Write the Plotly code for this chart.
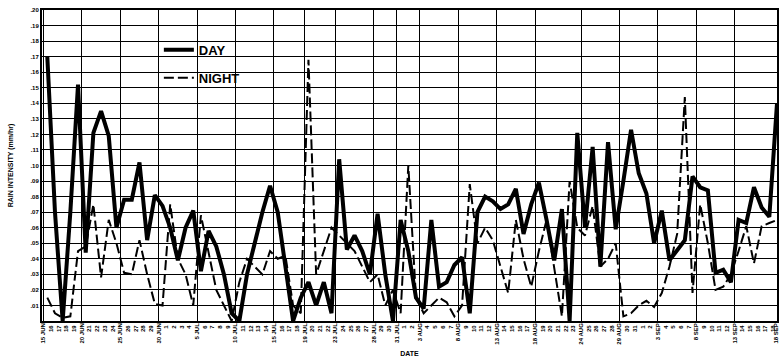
import plotly.graph_objects as go

# Daily rain intensity (mm/hr), observation day index 0 = 15 JUN
DAY = [0.170, 0.070, 0.000, 0.070, 0.152, 0.044, 0.121, 0.135, 0.119, 0.060,
       0.078, 0.078, 0.102, 0.052, 0.081, 0.074, 0.060, 0.039, 0.060, 0.071,
       0.032, 0.058, 0.048, 0.030, 0.005, 0.000, 0.030, 0.050, 0.070, 0.087,
       0.070, 0.035, 0.000, 0.015, 0.025, 0.010, 0.025, 0.005, 0.104, 0.046,
       0.055, 0.045, 0.030, 0.069, 0.030, 0.000, 0.065, 0.045, 0.015, 0.008,
       0.065, 0.022, 0.025, 0.036, 0.041, 0.005, 0.070, 0.080, 0.077, 0.072,
       0.075, 0.085, 0.056, 0.075, 0.089, 0.065, 0.039, 0.072, 0.000, 0.121,
       0.060, 0.112, 0.035, 0.115, 0.059, 0.090, 0.123, 0.095, 0.082, 0.050,
       0.071, 0.039, 0.045, 0.052, 0.093, 0.086, 0.084, 0.031, 0.033, 0.025,
       0.065, 0.063, 0.086, 0.073, 0.067, 0.140]
NIGHT = [0.015, 0.005, 0.002, 0.003, 0.045, 0.048, 0.075, 0.028, 0.065, 0.050,
         0.031, 0.030, 0.052, 0.030, 0.011, 0.010, 0.075, 0.040, 0.030, 0.010,
         0.068, 0.045, 0.020, 0.010, 0.000, 0.025, 0.040, 0.035, 0.030, 0.045,
         0.040, 0.042, 0.010, 0.005, 0.168, 0.030, 0.045, 0.060, 0.055, 0.050,
         0.045, 0.035, 0.025, 0.030, 0.010, 0.020, 0.005, 0.100, 0.015, 0.005,
         0.010, 0.015, 0.012, 0.003, 0.010, 0.088, 0.050, 0.060, 0.052, 0.035,
         0.018, 0.065, 0.040, 0.022, 0.045, 0.065, 0.035, 0.003, 0.090, 0.060,
         0.055, 0.074, 0.035, 0.040, 0.050, 0.003, 0.005, 0.010, 0.013, 0.009,
         0.018, 0.035, 0.056, 0.144, 0.018, 0.075, 0.050, 0.020, 0.022, 0.030,
         0.045, 0.061, 0.037, 0.061, 0.063, 0.065]
DAYS = list(range(len(DAY)))

# x tick labels: day of month at each day boundary, bigger labels at grid lines
DAY_NUMBERS = (list(range(15, 31)) + list(range(1, 32)) + list(range(1, 32))
               + list(range(1, 19)))
MAJOR_POS = [-0.5, 4.5, 9.5, 14.5, 19.5, 24.5, 29.5, 33.5, 37.5, 42.5, 45.5,
             48.5, 53.5, 58.5, 63.5, 69.5, 74.5, 79.5, 84.5, 89.5, 94.9]
MAJOR_LABELS = ["15 JUN", "20 JUN", "25 JUN", "30 JUN", "5 JUL", "10 JUL",
                "15 JUL", "19 JUL", "23 JUL", "28 JUL", "31 JUL", "3 AUG",
                "8 AUG", "13 AUG", "18 AUG", "24 AUG", "29 AUG", "3 SEP",
                "8 SEP", "13 SEP", "18 SEP"]
Y_TICKS = [i / 100 for i in range(1, 21)]
Y_LABELS = [".%02d" % i for i in range(1, 21)]

FONT = "Liberation Sans Narrow, Arial Narrow, Liberation Sans, Arial"

minor_pos = [j - 0.5 for j in range(len(DAY_NUMBERS))]
minor_txt = []
for p, d in zip(minor_pos, DAY_NUMBERS):
    minor_txt.append("" if p in MAJOR_POS else str(d))

fig = go.Figure()
fig.add_trace(go.Scatter(x=DAYS, y=DAY, mode="lines", name="DAY",
                         legendgroup="d",
                         line=dict(color="black", width=4)))
fig.add_trace(go.Scatter(x=DAYS, y=NIGHT, mode="lines", name="NIGHT",
                         legendgroup="n",
                         line=dict(color="black", width=2, dash="10px,4px")))
# carrier for the overlay axis with the big grid / labels
fig.add_trace(go.Scatter(x=[DAYS[0]], y=[None], xaxis="x2", showlegend=False,
                         hoverinfo="skip", mode="lines"))

fig.update_layout(
    width=783, height=363,
    margin=dict(l=42, r=6, t=10, b=42),
    paper_bgcolor="white", plot_bgcolor="white",
    font=dict(family=FONT, color="black"),
    showlegend=True,
    legend=dict(x=0.159, y=0.92, xanchor="left", yanchor="top",
                bgcolor="rgba(0,0,0,0)", tracegroupgap=8,
                font=dict(size=13, family=FONT, weight="bold"),
                itemwidth=30),
    xaxis=dict(range=[-0.69, 95.0], tickmode="array", tickvals=minor_pos,
               ticktext=minor_txt, tickangle=-90, automargin=False,
               tickfont=dict(size=6, weight="bold"),
               showgrid=False, zeroline=False, ticks="",
               showline=True, linecolor="black", linewidth=2, mirror=True,
               title=dict(text="DATE", font=dict(size=7, weight="bold"),
                          standoff=20)),
    xaxis2=dict(overlaying="x", matches="x", side="bottom", anchor="y",
                tickmode="array", tickvals=MAJOR_POS, ticktext=MAJOR_LABELS,
                tickangle=-90, tickfont=dict(size=6, weight="bold"),
                automargin=False,
                showgrid=True, gridcolor="black", gridwidth=1.3,
                zeroline=False, ticks="", showticklabels=True),
    yaxis=dict(range=[0, 0.20], tickmode="array", tickvals=Y_TICKS,
               ticktext=Y_LABELS, tickfont=dict(size=6, weight="bold"),
               automargin=False,
               showgrid=True, gridcolor="black", gridwidth=1.3,
               zeroline=False, ticks="",
               showline=True, linecolor="black", linewidth=2, mirror=True,
               title=dict(text="RAIN INTENSITY (mm/hr)",
                          font=dict(size=7, weight="bold"), standoff=16)),
)

fig.write_html("out.html", config={"displayModeBar": False},
               post_script="document.body.style.margin='0';"
                           "document.body.style.padding='0';")
